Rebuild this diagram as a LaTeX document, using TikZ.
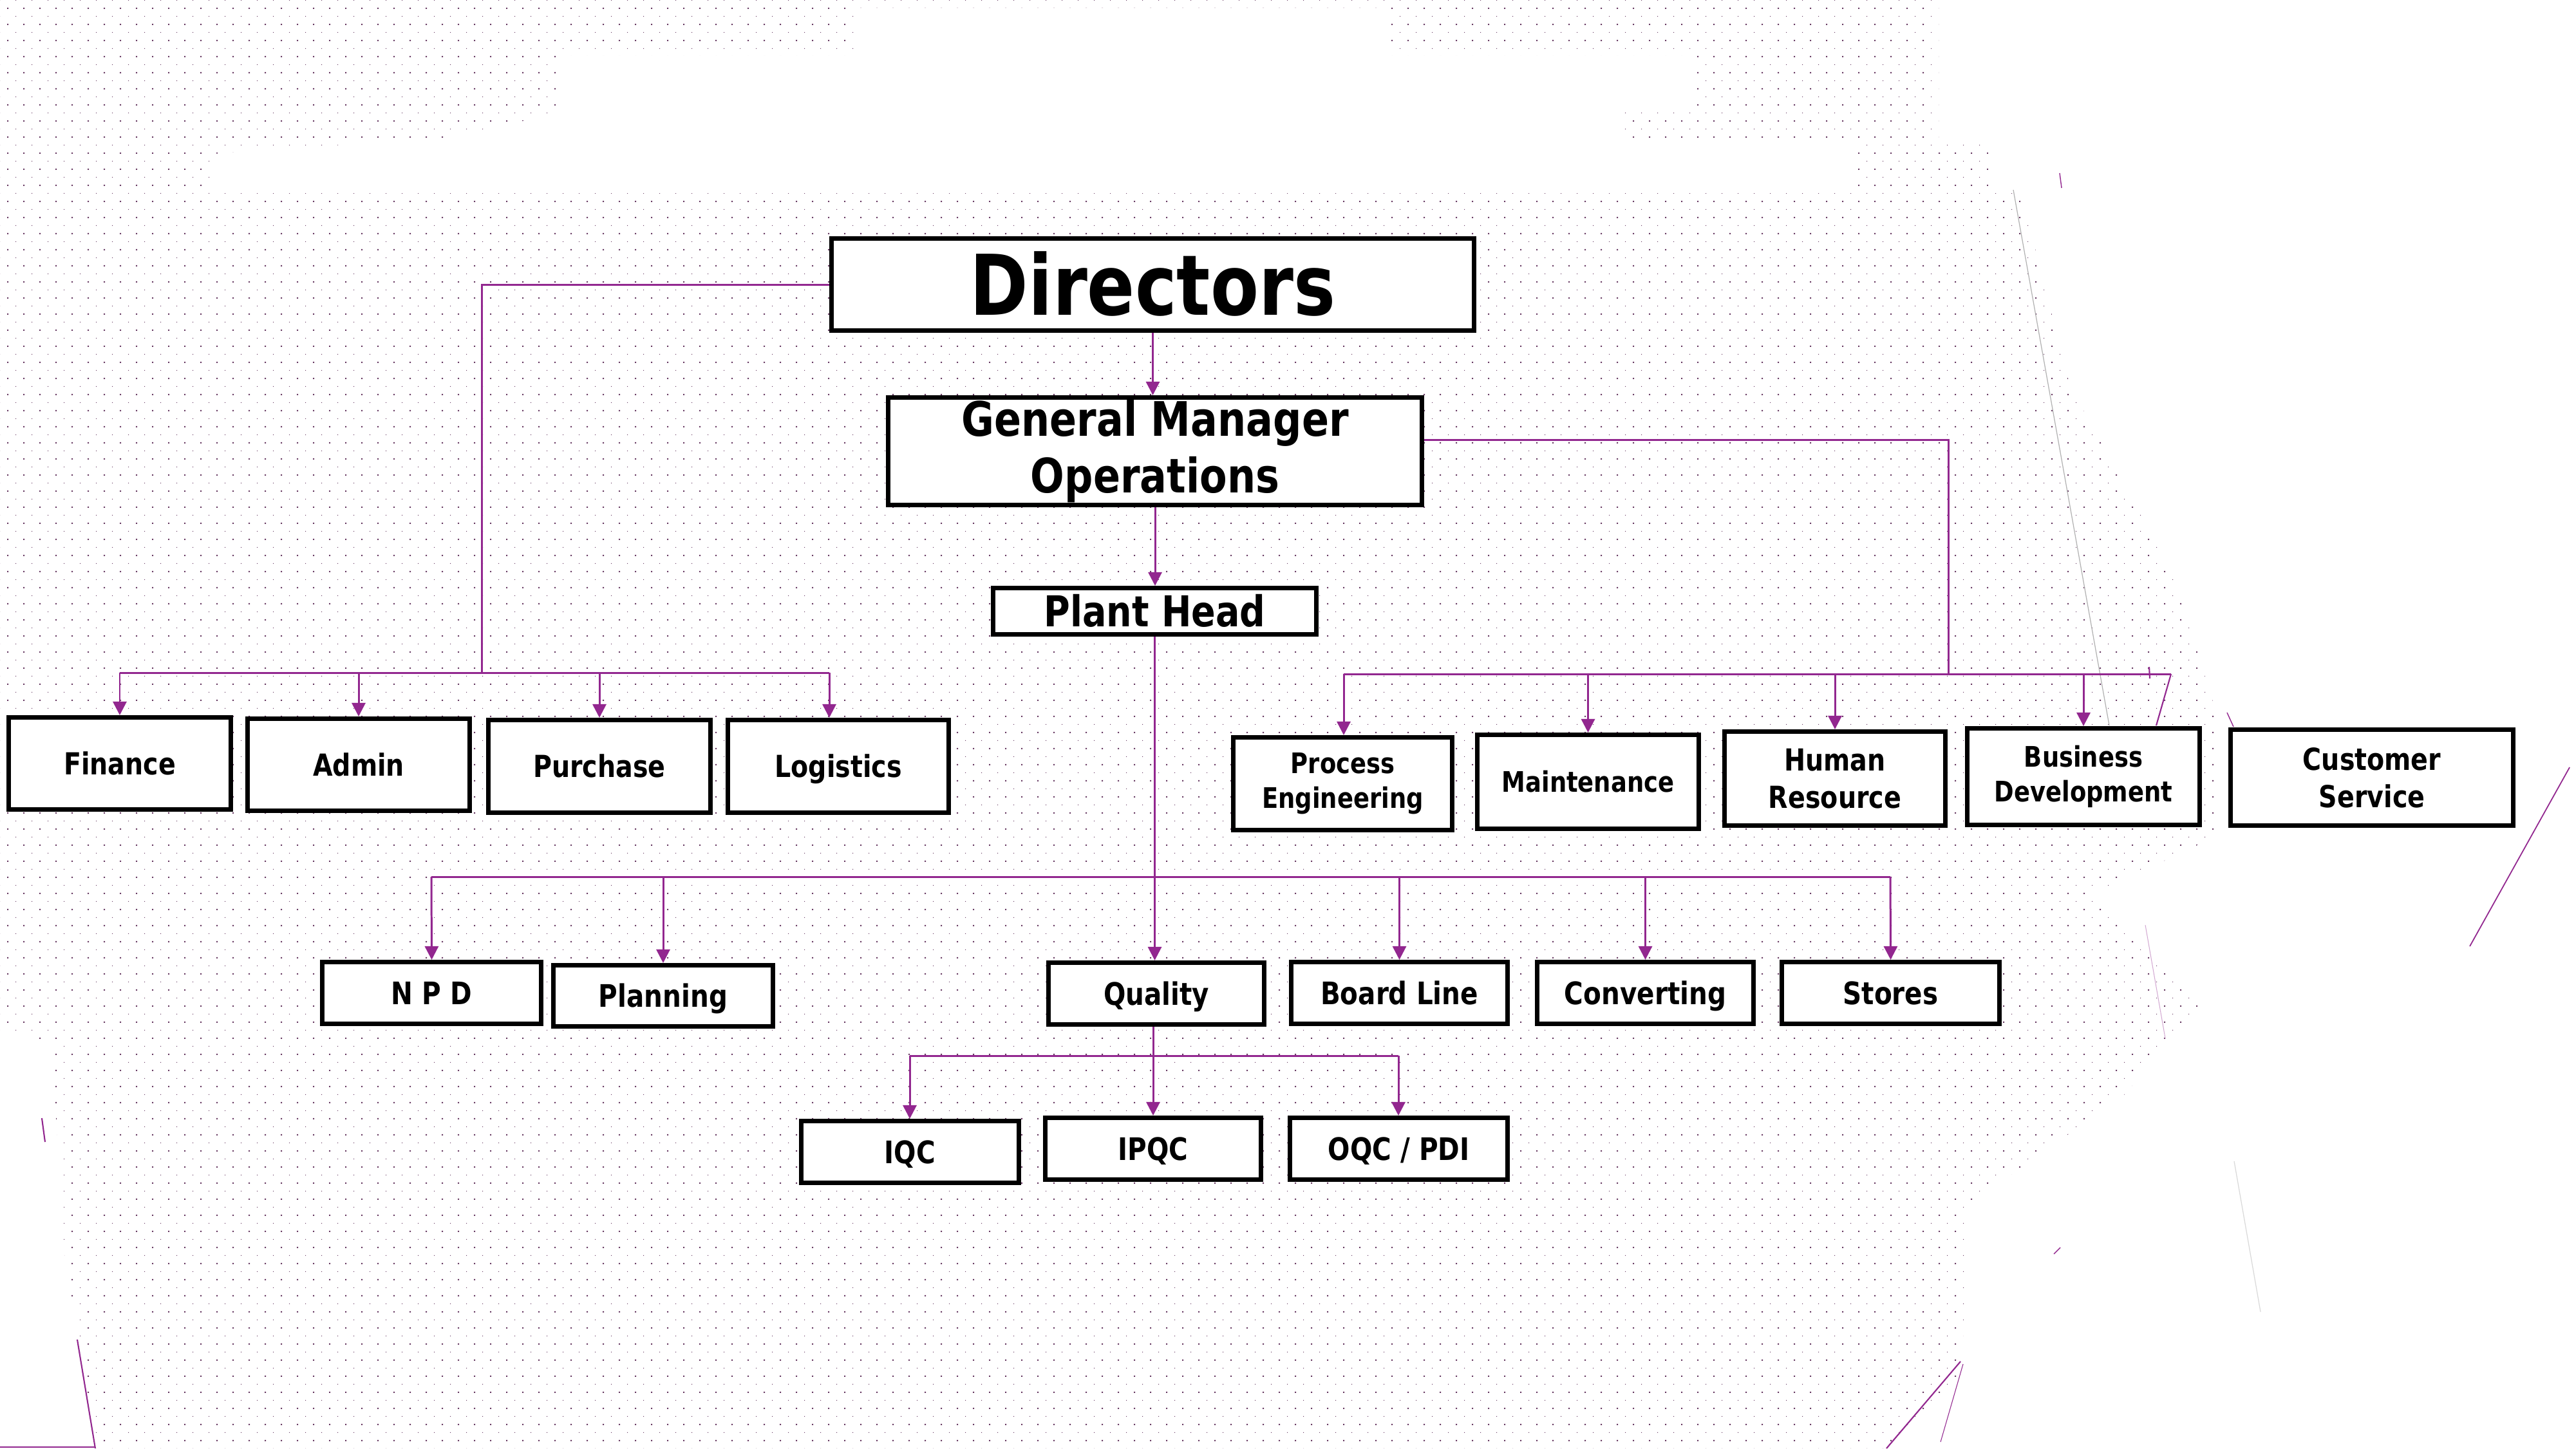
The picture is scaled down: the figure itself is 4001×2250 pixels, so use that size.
\documentclass[tikz,border=0pt]{standalone}
\usepackage{fontspec}
\setmainfont{DejaVu Sans}[FakeStretch=0.84]
\usetikzlibrary{arrows.meta,patterns}
\definecolor{lnc}{RGB}{146,39,143}
\definecolor{dotc}{RGB}{105,60,100}
\pgfdeclarepatternformonly{bgdots}{\pgfqpoint{0pt}{0pt}}{\pgfqpoint{7.1131pt}{7.1131pt}}{\pgfqpoint{7.1131pt}{7.1131pt}}{%
  \pgfpathrectangle{\pgfqpoint{0pt}{0pt}}{\pgfqpoint{0.35pt}{0.35pt}}%
  \pgfpathrectangle{\pgfqpoint{3.556pt}{3.556pt}}{\pgfqpoint{0.6pt}{0.6pt}}%
  \pgfusepath{fill}}
\newcommand\fDir{\bfseries\fontsize{37}{44}\selectfont}
\newcommand\fGm{\bfseries\fontsize{21}{24.8}\selectfont}
\newcommand\fPh{\bfseries\fontsize{18.8}{22}\selectfont}
\newcommand\fRow{\bfseries\fontsize{13.4}{16.5}\selectfont}
\newcommand\fSm{\bfseries\fontsize{12.5}{15.4}\selectfont}
\newcommand\fLow{\bfseries\fontsize{13.7}{16.5}\selectfont}
\begin{document}
\begin{tikzpicture}[x=0.01cm,y=-0.01cm,
  box/.style={draw=black, line width=2pt, fill=white, inner sep=0pt, align=center, text=black},
  capc/.style={text height=#1, text depth=0pt},
  conn/.style={draw=lnc, line width=0.85pt},
  arr/.style={conn, -{Triangle[length=6pt,width=6pt]}},
  deco/.style={draw=lnc, line width=0.4pt},
  grayline/.style={draw=black!30, line width=0.35pt}]
% background
\useasboundingbox (0,0) rectangle (4001,2250);
\fill[white] (0,0) rectangle (4001,2250);
\fill[pattern=bgdots, pattern color=dotc, even odd rule]
  (0,0) -- (3011,0) -- (3011,220) -- (3088,220) -- (3088,300) -- (3139,300) -- (3215,600)
  -- (3375,890) -- (3440,1100) -- (3440,1300) -- (3250,1390) -- (3420,1560) -- (3300,1700)
  -- (3060,1870) -- (3045,2150) -- (2930,2250) -- (150,2250) -- (100,1950) -- (80,1620)
  -- (0,1600) -- cycle
  (1327,12) -- (2157,12) -- (2157,86) -- (2629,86) -- (2629,170) -- (2514,170) -- (2514,220)
  -- (2884,220) -- (2884,300) -- (332,300) -- (332,239) -- (689,214) -- (868,176) -- (868,86)
  -- (1327,86) -- cycle;
% background artefacts
\draw[grayline] (3127,295) -- (3276,1127);
\draw[deco] (3199,269) -- (3202,292);
\draw[deco] (3459,1107) -- (3469,1129);
\draw[deco, line width=0.5pt] (3991,1192) -- (3836,1470);
\draw[deco, line width=0.6pt] (3045,2115) -- (2930,2250);
\draw[deco, line width=0.3pt] (3049,2119) -- (3014,2240);
\draw[deco] (3200,1938) -- (3190,1948);
\draw[deco, draw=lnc!40, line width=0.3pt] (3332,1437) -- (3363,1613);
\draw[grayline, draw=black!15] (3470,1804) -- (3511,2038);
\draw[deco, line width=0.6pt] (120,2081) -- (148,2250);
\draw[deco, line width=0.6pt] (65,1737) -- (70,1774);
\draw[deco, line width=0.4pt] (0,2248) -- (148,2248);
% nodes
\node[box, minimum width=9.98cm, minimum height=1.43cm, font=\fDir, capc=27pt] (dir) at (1790.5,442) {Directors};
\node[box, minimum width=8.29cm, minimum height=1.67cm, font=\fGm] (gm) at (1794,701) {General Manager\\Operations};
\node[box, minimum width=5.02cm, minimum height=0.72cm, font=\fPh, capc=13.7pt] (ph) at (1793.5,949.5) {Plant Head};
\node[box, minimum width=3.45cm, minimum height=1.43cm, font=\fRow, capc=9.8pt] (fin) at (186,1186) {Finance};
\node[box, minimum width=3.45cm, minimum height=1.43cm, font=\fRow, capc=9.8pt] (adm) at (557,1188) {Admin};
\node[box, minimum width=3.45cm, minimum height=1.44cm, font=\fRow, capc=9.8pt] (pur) at (931,1190.5) {Purchase};
\node[box, minimum width=3.43cm, minimum height=1.44cm, font=\fRow, capc=9.8pt] (logi) at (1302,1190.5) {Logistics};
\node[box, minimum width=3.40cm, minimum height=1.44cm, font=\fSm] (pe) at (2085.5,1217.5) {Process\\Engineering};
\node[box, minimum width=3.44cm, minimum height=1.46cm, font=\fSm, capc=9.1pt] (mnt) at (2466.5,1214.5) {Maintenance};
\node[box, minimum width=3.43cm, minimum height=1.46cm, font=\fRow] (hr) at (2850,1209.5) {Human\\Resource};
\node[box, minimum width=3.61cm, minimum height=1.50cm, font=\fSm] (bd) at (3236,1206.5) {Business\\Development};
\node[box, minimum width=4.39cm, minimum height=1.49cm, font=\fRow] (cs) at (3684,1208) {Customer\\Service};
\node[box, minimum width=3.40cm, minimum height=0.96cm, font=\fLow, capc=10pt] (npd) at (670.5,1542.5) {N P D};
\node[box, minimum width=3.41cm, minimum height=0.95cm, font=\fLow, capc=10pt] (pln) at (1030,1547) {Planning};
\node[box, minimum width=3.35cm, minimum height=0.96cm, font=\fLow, capc=10pt] (q) at (1796,1543.5) {Quality};
\node[box, minimum width=3.36cm, minimum height=0.96cm, font=\fLow, capc=10pt] (brd) at (2173.5,1542.5) {Board Line};
\node[box, minimum width=3.36cm, minimum height=0.96cm, font=\fLow, capc=10pt] (cnv) at (2555.5,1542.5) {Converting};
\node[box, minimum width=3.38cm, minimum height=0.96cm, font=\fLow, capc=10pt] (sto) at (2936.5,1542.5) {Stores};
\node[box, minimum width=3.38cm, minimum height=0.96cm, font=\fLow, capc=10pt] (iqc) at (1413.5,1789.5) {IQC};
\node[box, minimum width=3.35cm, minimum height=0.96cm, font=\fLow, capc=10pt] (ipqc) at (1791,1784.5) {IPQC};
\node[box, minimum width=3.38cm, minimum height=0.96cm, font=\fLow, capc=10pt] (oqc) at (2172.5,1784.5) {OQC / PDI};
% bus coordinates
\coordinate (busL) at (748,1045);
\coordinate (busLa) at (186,1045);
\coordinate (busLb) at (1288,1045);
\coordinate (busR) at (3026,1047);
\coordinate (busRa) at (2087,1047);
\coordinate (busRb) at (3372,1047);
\coordinate (spur) at (3349,1127);
\coordinate (busP) at (670,1362);
\coordinate (busPb) at (2936,1362);
\coordinate (busQ) at (1413,1640);
\coordinate (busQb) at (2172,1640);
% connectors
\draw[arr] (dir.south) -- (dir.south |- gm.north);
\draw[arr] (gm.south) -- (gm.south |- ph.north);
\draw[conn] (dir.west) -| (busL);
\draw[conn] (busLa) -- (busLb);
\draw[arr] (fin.north |- busLa) -- (fin.north);
\draw[arr] (adm.north |- busLa) -- (adm.north);
\draw[arr] (pur.north |- busLa) -- (pur.north);
\draw[arr] (busLb) -- (busLb |- logi.north);
\draw[conn] ([yshift=0.18cm]gm.east) -| (busR);
\draw[conn] (busRa) -- (busRb);
\draw[conn, line width=0.6pt] (busRb) -- (spur);
\draw[conn, line width=0.6pt] (3338,1036) -- (3339,1054);
\draw[arr] (busRa) -- (busRa |- pe.north);
\draw[arr] (mnt.north |- busRa) -- (mnt.north);
\draw[arr] (hr.north |- busRa) -- (hr.north);
\draw[arr] (bd.north |- busRa) -- (bd.north);
\draw[arr] (ph.south) -- (ph.south |- q.north);
\draw[conn] (busP) -- (busPb);
\draw[arr] (busP) -- (npd.north);
\draw[arr] (pln.north |- busP) -- (pln.north);
\draw[arr] (brd.north |- busP) -- (brd.north);
\draw[arr] (cnv.north |- busP) -- (cnv.north);
\draw[arr] (busPb) -- (sto.north);
\draw[arr] (q.south -| ipqc.north) -- (ipqc.north);
\draw[conn] (busQ) -- (busQb);
\draw[arr] (busQ) -- (busQ |- iqc.north);
\draw[arr] (busQb) -- (busQb |- oqc.north);
\end{tikzpicture}
\end{document}
